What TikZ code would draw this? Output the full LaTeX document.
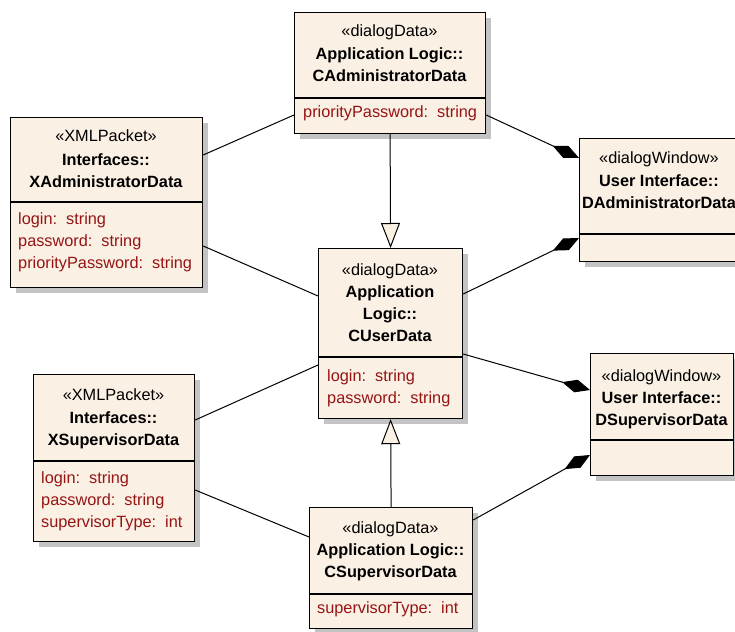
\documentclass[tikz,border=0pt]{standalone}
\usepackage{fontspec}
\setmainfont{Liberation Sans}
\usetikzlibrary{arrows.meta,shadows}
\definecolor{cream}{RGB}{250,240,228}
\definecolor{attr}{RGB}{150,20,20}
\definecolor{shadowgray}{RGB}{195,195,195}
\newcommand{\fs}{\fontsize{16.3}{22}\selectfont}
\newcommand{\gap}{\hspace{9pt}}
\tikzset{
  cbox/.style={draw=black, line width=1.2pt, fill=cream, rectangle, anchor=north west, inner sep=0pt,
    general shadow={fill=shadowgray, shadow xshift=5pt, shadow yshift=-5pt}},
  sepline/.style={draw=black, line width=1.2pt},
  sttxt/.style={anchor=base, inner sep=0pt, font=\fs},
  nmtxt/.style={anchor=base, inner sep=0pt, font=\fs\bfseries},
  attrtxt/.style={anchor=base west, inner sep=0pt, font=\fs, text=attr},
  conn/.style={draw=black, line width=1pt},
  comp/.style={conn, -{Diamond[length=29pt,width=13pt]}},
  gen/.style={conn, -{Triangle[length=25pt,width=19pt,fill=cream]}},
}
\begin{document}
\begin{tikzpicture}[x=1pt,y=-1pt]
\useasboundingbox (0,0) rectangle (735,631);
\clip (0,0) rectangle (735,631);
\fill[white] (0,0) rectangle (735,631);

% CAdministratorData
\node[cbox, minimum width=191pt, minimum height=121pt] (cadm) at (294,12) {};
\draw[sepline] ([yshift=-86pt]cadm.north west) -- ([yshift=-86pt]cadm.north east);
\node[sttxt] (cadm-st) at (389.5,37) {«dialogData»};
\node[nmtxt] (cadm-n1) at (389.5,60) {Application Logic::};
\node[nmtxt] (cadm-n2) at (389.5,82) {CAdministratorData};
\node[attrtxt] (cadm-a1) at (303,118) {priorityPassword:\gap string};

% XAdministratorData
\node[cbox, minimum width=192pt, minimum height=170pt] (xadm) at (10,117) {};
\draw[sepline] ([yshift=-85pt]xadm.north west) -- ([yshift=-85pt]xadm.north east);
\node[sttxt] (xadm-st) at (106,142) {«XMLPacket»};
\node[nmtxt] (xadm-n1) at (106,165) {Interfaces::};
\node[nmtxt] (xadm-n2) at (106,187) {XAdministratorData};
\node[attrtxt] (xadm-a1) at (18,224) {login:\gap string};
\node[attrtxt] (xadm-a2) at (18,246) {password:\gap string};
\node[attrtxt] (xadm-a3) at (18,268) {priorityPassword:\gap string};

% DAdministratorData
\node[cbox, minimum width=163pt, minimum height=123pt] (dadm) at (579,138) {};
\draw[sepline] ([yshift=-96pt]dadm.north west) -- ([yshift=-96pt]dadm.north east);
\node[sttxt] (dadm-st) at (659,164) {«dialogWindow»};
\node[nmtxt] (dadm-n1) at (659,186) {User Interface::};
\node[nmtxt] (dadm-n2) at (659,208) {DAdministratorData};

% CUserData
\node[cbox, minimum width=144pt, minimum height=170pt] (cuser) at (318,248) {};
\draw[sepline] ([yshift=-109pt]cuser.north west) -- ([yshift=-109pt]cuser.north east);
\node[sttxt] (cuser-st) at (390,275) {«dialogData»};
\node[nmtxt] (cuser-n1) at (390,297) {Application};
\node[nmtxt] (cuser-n2) at (390,319) {Logic::};
\node[nmtxt] (cuser-n3) at (390,341) {CUserData};
\node[attrtxt] (cuser-a1) at (327,381) {login:\gap string};
\node[attrtxt] (cuser-a2) at (327,403) {password:\gap string};

% XSupervisorData
\node[cbox, minimum width=161pt, minimum height=167pt] (xsup) at (33,374) {};
\draw[sepline] ([yshift=-87pt]xsup.north west) -- ([yshift=-87pt]xsup.north east);
\node[sttxt] (xsup-st) at (113.5,400) {«XMLPacket»};
\node[nmtxt] (xsup-n1) at (113.5,423) {Interfaces::};
\node[nmtxt] (xsup-n2) at (113.5,445) {XSupervisorData};
\node[attrtxt] (xsup-a1) at (41,483) {login:\gap string};
\node[attrtxt] (xsup-a2) at (41,505) {password:\gap string};
\node[attrtxt] (xsup-a3) at (41,527) {supervisorType:\gap int};

% DSupervisorData
\node[cbox, minimum width=143pt, minimum height=122pt] (dsup) at (590,353) {};
\draw[sepline] ([yshift=-87pt]dsup.north west) -- ([yshift=-87pt]dsup.north east);
\node[sttxt] (dsup-st) at (661.5,381) {«dialogWindow»};
\node[nmtxt] (dsup-n1) at (661.5,403) {User Interface::};
\node[nmtxt] (dsup-n2) at (661.5,425) {DSupervisorData};

% CSupervisorData
\node[cbox, minimum width=163pt, minimum height=121pt] (csup) at (309,507) {};
\draw[sepline] ([yshift=-87pt]csup.north west) -- ([yshift=-87pt]csup.north east);
\node[sttxt] (csup-st) at (390.5,533) {«dialogData»};
\node[nmtxt] (csup-n1) at (390.5,555) {Application Logic::};
\node[nmtxt] (csup-n2) at (390.5,577) {CSupervisorData};
\node[attrtxt] (csup-a1) at (317,613) {supervisorType:\gap int};

% generalizations
\draw[gen] (cadm.south) -- (cuser.north);
\draw[gen] (csup.north) -- (cuser.south);

% compositions
\draw[comp] ([yshift=-103pt]cadm.north east) -- ([yshift=-20pt]dadm.north west);
\draw[comp] ([yshift=-46pt]cuser.north east) -- ([yshift=-100pt]dadm.north west);
\draw[comp] ([yshift=-106pt]cuser.north east) -- ([yshift=-37pt]dsup.north west);
\draw[comp] ([yshift=-13pt]csup.north east) -- ([yshift=-102pt]dsup.north west);

% plain associations
\draw[conn] ([yshift=-38pt]xadm.north east) -- ([yshift=-103pt]cadm.north west);
\draw[conn] ([yshift=-129pt]xadm.north east) -- ([yshift=-48pt]cuser.north west);
\draw[conn] ([yshift=-46pt]xsup.north east) -- ([yshift=-117pt]cuser.north west);
\draw[conn] ([yshift=-116pt]xsup.north east) -- ([yshift=-30pt]csup.north west);
\end{tikzpicture}
\end{document}
